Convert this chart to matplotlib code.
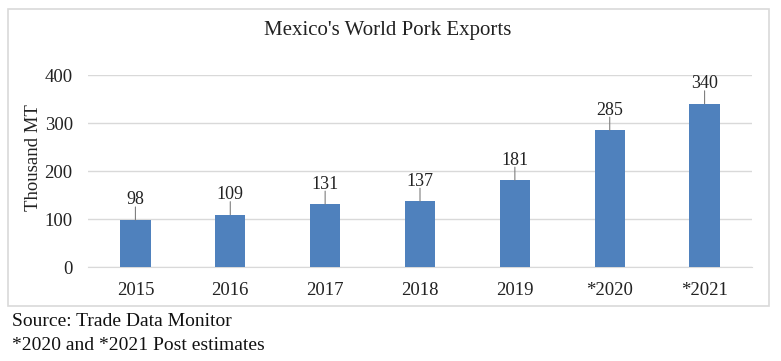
import matplotlib.pyplot as plt
from matplotlib.patches import Rectangle

years = ['2015', '2016', '2017', '2018', '2019', '*2020', '*2021']
exports = [98, 109, 131, 137, 181, 285, 340]

plt.rcParams['font.family'] = ['Liberation Serif', 'DejaVu Serif']

W, H = 781, 361
fig = plt.figure(figsize=(W / 100, H / 100), dpi=100)
ax = fig.add_axes([88 / W, 1 - 267 / H, (752 - 88) / W, (267 - 75) / H])

# chart border like the excel box
fig.patches.append(Rectangle((8 / W, 1 - 306 / H), (769 - 8) / W, (306 - 9) / H,
                             transform=fig.transFigure, fill=False,
                             edgecolor='#d9d9d9', linewidth=1.2))

x = range(len(years))
ax.bar(x, exports, width=0.32, color='#4f81bd', zorder=3)
ax.set_xlim(-0.5, len(years) - 0.5)
ax.set_ylim(0, 400)
ax.set_yticks([0, 100, 200, 300, 400])
ax.set_xticks(list(x))
ax.set_xticklabels(years)
ax.grid(axis='y', color='#d9d9d9', linewidth=1, zorder=0)
for s in ['top', 'right', 'left']:
    ax.spines[s].set_visible(False)
ax.spines['bottom'].set_color('#d9d9d9')
ax.tick_params(length=0, labelsize=13.5, colors='#222222')
ax.tick_params(axis='x', pad=11)
ax.tick_params(axis='y', pad=11)

for i, v in enumerate(exports):
    ax.annotate('', xy=(i, v), xytext=(0, 13), textcoords='offset pixels',
                arrowprops=dict(arrowstyle='-', color='#7f7f7f', lw=0.8,
                                shrinkA=0, shrinkB=0))
    ax.annotate(str(v), xy=(i, v), xytext=(0, 20), textcoords='offset pixels',
                ha='center', va='center', fontsize=13, color='#222222')

fig.text(33 / W, 1 - 158 / H, 'Thousand MT', rotation=90, ha='center',
         va='center', fontsize=13.5, color='#222222')
fig.text(388 / W, 1 - 31 / H, "Mexico's World Pork Exports", ha='center',
         va='center', fontsize=15, color='#222222')
fig.text(12 / W, 1 - 322 / H, 'Source: Trade Data Monitor', ha='left',
         va='center', fontsize=14, color='#111111')
fig.text(12 / W, 1 - 345 / H, '*2020 and *2021 Post estimates', ha='left',
         va='center', fontsize=14, color='#111111')

fig.savefig('out.png', dpi=100)
